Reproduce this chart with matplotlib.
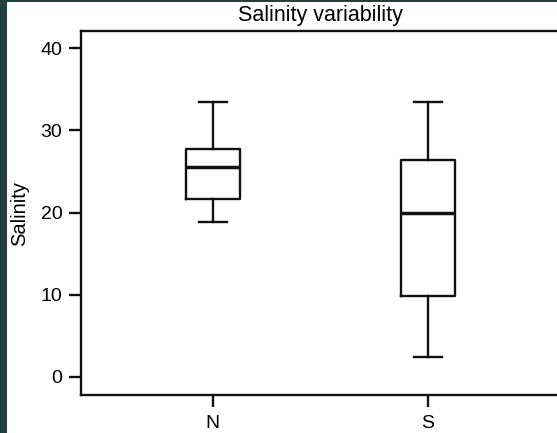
import matplotlib
matplotlib.use("Agg")
import matplotlib.pyplot as plt
from matplotlib.patches import Rectangle

plt.rcParams['font.family'] = ['Liberation Sans', 'DejaVu Sans']

categories = ["N", "S"]
whisker_low = [18.8, 2.4]
q1 = [21.7, 9.8]
median = [25.5, 19.9]
q3 = [27.7, 26.4]
whisker_high = [33.5, 33.4]
yticks = [0, 10, 20, 30, 40]

W, H = 557, 433
fig = plt.figure(figsize=(W / 100, H / 100), dpi=100)
fig.patch.set_facecolor('white')
# dark green border strips (left and top)
fig.patches.append(Rectangle((0, 0), 7 / W, 1, transform=fig.transFigure,
                             facecolor='#1f423c', edgecolor='none', zorder=0))
fig.patches.append(Rectangle((0, 1 - 2 / H), 1, 2 / H, transform=fig.transFigure,
                             facecolor='#1f423c', edgecolor='none', zorder=0))

left, right, top, bottom = 81, 559.4, 31, 395
ax = fig.add_axes([left / W, 1 - bottom / H, (right - left) / W, (bottom - top) / H])

stats = []
for i, c in enumerate(categories):
    stats.append(dict(label=c, whislo=whisker_low[i], q1=q1[i], med=median[i],
                      q3=q3[i], whishi=whisker_high[i], fliers=[]))

lw = 1.7
ax.bxp(stats, positions=[1, 2], widths=0.25, capwidths=0.13, showfliers=False,
       boxprops=dict(color='#111111', linewidth=lw),
       whiskerprops=dict(color='#111111', linewidth=lw),
       capprops=dict(color='#111111', linewidth=lw),
       medianprops=dict(color='#111111', linewidth=2.5))

ax.set_xlim(1 - 131.7 / 215, 2 + 131.7 / 215)
ax.set_ylim(-2.2, 42.1)
ax.set_yticks(yticks)
ax.set_xticks([1, 2])
ax.set_xticklabels(categories)
ax.tick_params(axis='both', which='major', labelsize=14, width=1.7, length=8.5, color='#111111')
ax.tick_params(axis='y', pad=5)
ax.tick_params(axis='x', pad=6)
for s in ax.spines.values():
    s.set_linewidth(1.7)
    s.set_color('#111111')
ax.spines['right'].set_visible(False)

ax.set_title("Salinity variability", fontsize=15.5, pad=7)
ax.set_ylabel("Salinity", fontsize=14.5, labelpad=8)

fig.savefig("out.png", dpi=100, facecolor=fig.get_facecolor())
